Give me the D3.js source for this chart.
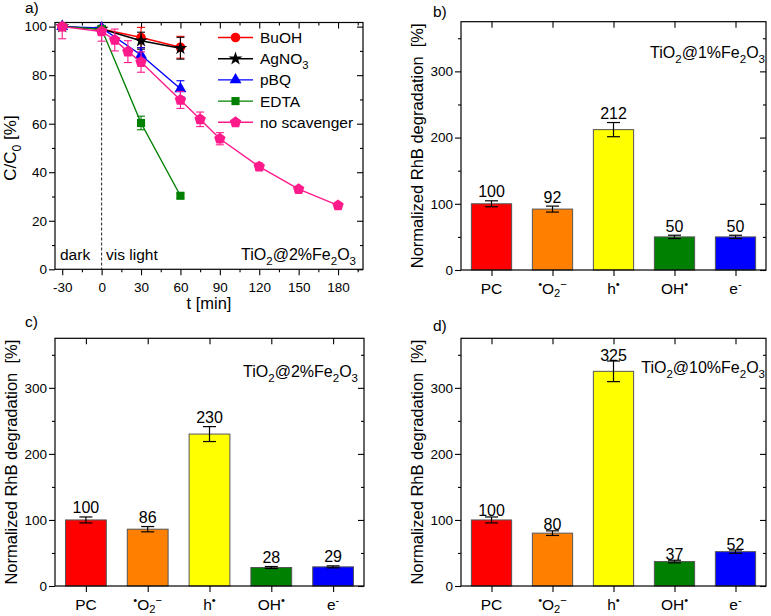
<!DOCTYPE html>
<html>
<head>
<meta charset="utf-8">
<script src="https://cdn.jsdelivr.net/npm/d3@7"></script>
<style>
  body { margin: 0; background: #fff; }
  svg { display: block; }
  text { font-family: "Liberation Sans", Arial, sans-serif; fill: #000; }
</style>
</head>
<body>
<svg id="fig" width="771" height="616"></svg>
<script>
// ---- panel a data: C/C0 [%] vs time for each scavenger ----
const scavengers = ["BuOH", "AgNO3", "pBQ", "EDTA", "no scavenger"];
const tShort = [-30, 0, 30, 60];
const tLong = [-30, 0, 10, 20, 30, 60, 75, 90, 120, 150, 180];
const buohC = [100, 99, 95.5, 91.5];
const buohErr = [1, 1, 4.2, 4.5];
const agno3C = [100, 99, 94.2, 91.1];
const agno3Err = [1, 1, 3.5, 4.5];
const pbqC = [100, 99.5, 88.3, 74.4];
const pbqErr = [1, 1, 3, 3.3];
const edtaC = [100, 99, 60.3, 30.3];
const edtaErr = [1, 1, 2.8, 1];
const noScavC = [100, 98, 94.5, 89.7, 85.4, 69.8, 61.8, 53.8, 42.3, 33, 26.3];
const noScavErr = [5, 4, 4.5, 4.5, 4.2, 3.5, 3, 2.5, 1.5, 1, 0.8];
const xTicksA = [-30, 0, 30, 60, 90, 120, 150, 180];
const yTicksA = [0, 20, 40, 60, 80, 100];

// ---- panels b-d data: normalized RhB degradation [%] ----
const species = ["PC", "O2", "h", "OH", "e"];
const speciesLabels = [
  ["PC"],
  [["\u2022", "sup"], "O", ["2", "sub"], ["\u2212", "sup"]],
  ["h", ["\u2022", "sup"]],
  ["OH", ["\u2022", "sup"]],
  ["e", ["-", "sup"]]
];
const deg1 = [100, 92, 212, 50, 50];
const err1 = [4.5, 4.5, 10.7, 2.5, 2.5];
const deg2 = [100, 86, 230, 28, 29];
const err2 = [4.5, 4, 11.3, 1.5, 1.5];
const deg10 = [100, 80, 325, 37, 52];
const err10 = [4.5, 3.5, 15.6, 2, 2.5];
const yTicksBar = [0, 100, 200, 300];

const seriesColors = ["#ff0000", "#000000", "#0000ff", "#008000", "#ff1a8c"];
const barColors = ["#ff0000", "#ff8000", "#ffff00", "#008000", "#0000ff"];

const svg = d3.select("#fig");

// text with sub/superscripts
function rich(t, parts, size, subShift) {
  let shift = 0;
  const sub = subShift === undefined ? 0.3 : subShift;
  parts.forEach(p => {
    const s = typeof p === "string" ? p : p[0];
    const kind = typeof p === "string" ? null : p[1];
    const target = kind === "sub" ? size * sub : kind === "sup" ? -size * 0.38 : 0;
    t.append("tspan")
      .attr("dy", target - shift)
      .attr("font-size", kind ? size * 0.72 : size)
      .text(s);
    shift = target;
  });
  return t;
}

function frameAxes(g, box, x, y, xt, xm, yt, ym, xFormat) {
  g.append("rect")
    .attr("x", box.left).attr("y", box.top)
    .attr("width", box.right - box.left).attr("height", box.bottom - box.top)
    .attr("fill", "none").attr("stroke", "#000").attr("stroke-width", 1.2);

  const clean = s => { s.select(".domain").remove(); s.selectAll("line").attr("stroke-width", 1.1); };
  const style = s => s.attr("font-size", 13.5);

  g.append("g").attr("transform", `translate(0,${box.bottom})`)
    .call(d3.axisBottom(x).tickValues(xt).tickSize(6).tickPadding(7).tickFormat(xFormat || (d => d)))
    .call(clean).call(style);
  g.append("g").attr("transform", `translate(0,${box.top})`)
    .call(d3.axisTop(x).tickValues(xt).tickSize(-6).tickFormat(""))
    .call(clean);
  if (xm) {
    g.append("g").attr("transform", `translate(0,${box.bottom})`)
      .call(d3.axisBottom(x).tickValues(xm).tickSize(3).tickFormat("")).call(clean);
    g.append("g").attr("transform", `translate(0,${box.top})`)
      .call(d3.axisTop(x).tickValues(xm).tickSize(-3).tickFormat("")).call(clean);
  }
  g.append("g").attr("transform", `translate(${box.left},0)`)
    .call(d3.axisLeft(y).tickValues(yt).tickSize(6).tickPadding(2))
    .call(clean).call(style);
  g.append("g").attr("transform", `translate(${box.left},0)`)
    .call(d3.axisLeft(y).tickValues(ym).tickSize(3).tickFormat("")).call(clean);
  g.append("g").attr("transform", `translate(${box.right},0)`)
    .call(d3.axisRight(y).tickValues(yt).tickSize(-6).tickFormat("")).call(clean);
  g.append("g").attr("transform", `translate(${box.right},0)`)
    .call(d3.axisRight(y).tickValues(ym).tickSize(-3).tickFormat("")).call(clean);
}

function pentagon(r) {
  const pts = d3.range(5).map(k => {
    const a = -Math.PI / 2 + k * 2 * Math.PI / 5;
    return [r * Math.cos(a), r * Math.sin(a)];
  });
  return "M" + pts.map(p => p.join(",")).join("L") + "Z";
}
const markers = [
  d3.symbol(d3.symbolCircle, 72)(),
  d3.symbol(d3.symbolStar, 60)(),
  d3.symbol(d3.symbolTriangle, 62)(),
  d3.symbol(d3.symbolSquare, 66)(),
  pentagon(6)
];

// ================= panel a =================
const boxA = {left: 55, top: 22.5, right: 363, bottom: 269.3};
const xA = d3.scaleLinear().domain([-35.5, 199]).range([boxA.left, boxA.right]);
const yA = d3.scaleLinear().domain([0, 101.7]).range([boxA.bottom, boxA.top]);
const gA = svg.append("g");

frameAxes(gA, boxA, xA, yA, xTicksA, d3.range(-15, 199, 30), yTicksA, d3.range(10, 100, 20));

gA.append("line")
  .attr("x1", xA(0)).attr("x2", xA(0))
  .attr("y1", boxA.top).attr("y2", boxA.bottom)
  .attr("stroke", "#222").attr("stroke-width", 1).attr("stroke-dasharray", "3,2");

const seriesA = [
  {t: tShort, c: buohC, e: buohErr},
  {t: tShort, c: agno3C, e: agno3Err},
  {t: tShort, c: pbqC, e: pbqErr},
  {t: tShort, c: edtaC, e: edtaErr},
  {t: tLong, c: noScavC, e: noScavErr}
];
const lineA = d3.line().x(d => xA(d[0])).y(d => yA(d[1]));

seriesA.forEach((s, i) => {
  const pts = s.t.map((t, j) => [t, s.c[j], s.e[j]]);
  const col = seriesColors[i];
  const sg = gA.append("g");
  sg.append("path").attr("d", lineA(pts))
    .attr("fill", "none").attr("stroke", col).attr("stroke-width", 1.4);
  const eb = sg.selectAll("g.eb").data(pts).enter().append("g")
    .attr("stroke", col).attr("stroke-width", 1.1);
  eb.append("line").attr("x1", d => xA(d[0])).attr("x2", d => xA(d[0]))
    .attr("y1", d => yA(d[1] - d[2])).attr("y2", d => yA(Math.min(d[1] + d[2], 101.7)));
  eb.append("line").attr("x1", d => xA(d[0]) - 4).attr("x2", d => xA(d[0]) + 4)
    .attr("y1", d => yA(d[1] - d[2])).attr("y2", d => yA(d[1] - d[2]));
  eb.filter(d => d[1] + d[2] < 101.7).append("line")
    .attr("x1", d => xA(d[0]) - 4).attr("x2", d => xA(d[0]) + 4)
    .attr("y1", d => yA(d[1] + d[2])).attr("y2", d => yA(d[1] + d[2]));
  sg.selectAll("path.m").data(pts).enter().append("path")
    .attr("class", "m")
    .attr("d", markers[i])
    .attr("transform", d => `translate(${xA(d[0])},${yA(d[1])})`)
    .attr("fill", col);
});

// legend
const leg = gA.append("g");
scavengers.forEach((name, i) => {
  const yy = 37.5 + i * 21.2;
  leg.append("line").attr("x1", 218).attr("x2", 253).attr("y1", yy).attr("y2", yy)
    .attr("stroke", seriesColors[i]).attr("stroke-width", 1.4);
  leg.append("path").attr("d", markers[i]).attr("transform", `translate(235.5,${yy})`)
    .attr("fill", seriesColors[i]);
  const parts = name === "AgNO3" ? ["AgNO", ["3", "sub"]] : [name];
  rich(leg.append("text").attr("x", 260).attr("y", yy + 5.5), parts, 15.5);
});

gA.append("text").attr("x", 60).attr("y", 260).attr("font-size", 15.5).text("dark");
gA.append("text").attr("x", 106).attr("y", 260).attr("font-size", 15.5).text("vis light");
rich(gA.append("text").attr("x", 356).attr("y", 260).attr("text-anchor", "end"),
  ["TiO", ["2", "sub"], "@2%Fe", ["2", "sub"], "O", ["3", "sub"]], 16);

gA.append("text").attr("x", (boxA.left + boxA.right) / 2).attr("y", 309)
  .attr("text-anchor", "middle").attr("font-size", 16.5).text("t [min]");
rich(gA.append("text").attr("transform", "translate(16,148) rotate(-90)")
  .attr("text-anchor", "middle"), ["C/C", ["0", "sub"], " [%]"], 17);
gA.append("text").attr("x", 25).attr("y", 13).attr("font-size", 15.5).text("a)");

// ================= panels b-d =================
function barPanel(box, vals, errs, tagParts, tagX, tagY, letter, letterX, letterY, yLabX, labelGap) {
  const g = svg.append("g");
  const x = d3.scaleBand().domain(species).range([box.left, box.right])
    .paddingInner(0.34).paddingOuter(0.17);
  const xc = d3.scalePoint().domain(species).range([box.left, box.right]).padding(0.5);
  const y = d3.scaleLinear().domain([0, 375]).range([box.bottom, box.top]);
  const data = species.map((s, i) => ({s, v: vals[i], e: errs[i], c: barColors[i]}));

  g.selectAll("rect.bar").data(data).enter().append("rect")
    .attr("class", "bar")
    .attr("x", d => x(d.s)).attr("width", x.bandwidth())
    .attr("y", d => y(d.v)).attr("height", d => y(0) - y(d.v))
    .attr("fill", d => d.c).attr("stroke", "#555").attr("stroke-width", 1);

  const eb = g.selectAll("g.eb").data(data).enter().append("g")
    .attr("stroke", "#000").attr("stroke-width", 1.2);
  eb.append("line").attr("x1", d => xc(d.s)).attr("x2", d => xc(d.s))
    .attr("y1", d => y(d.v - d.e)).attr("y2", d => y(d.v + d.e));
  [-1, 1].forEach(sg => {
    eb.append("line").attr("x1", d => xc(d.s) - 6.5).attr("x2", d => xc(d.s) + 6.5)
      .attr("y1", d => y(d.v + sg * d.e)).attr("y2", d => y(d.v + sg * d.e));
  });

  g.selectAll("text.val").data(data).enter().append("text")
    .attr("class", "val")
    .attr("x", d => xc(d.s)).attr("y", d => y(d.v + d.e) - labelGap)
    .attr("text-anchor", "middle").attr("font-size", 16)
    .text(d => d.v);

  frameAxes(g, box, xc, y, species, null, yTicksBar, [50, 150, 250, 350], () => "");

  species.forEach((s, i) => {
    rich(g.append("text").attr("x", xc(s)).attr("y", box.bottom + 23.5)
      .attr("text-anchor", "middle"), speciesLabels[i], 15.5, 0.2);
  });

  rich(g.append("text").attr("x", tagX).attr("y", tagY).attr("text-anchor", "end"), tagParts, 16);
  g.append("text").attr("x", letterX).attr("y", letterY).attr("font-size", 15.5).text(letter);
  g.append("text")
    .attr("transform", `translate(${yLabX},${(box.top + box.bottom) / 2}) rotate(-90)`)
    .attr("text-anchor", "middle").attr("font-size", 16.5)
    .style("white-space", "pre")
    .text("Normalized RhB degradation  [%]");
}

barPanel({left: 461, top: 21.7, right: 766, bottom: 270}, deg1, err1,
  ["TiO", ["2", "sub"], "@1%Fe", ["2", "sub"], "O", ["3", "sub"]], 765, 58,
  "b)", 433, 17, 423, 3.5);
barPanel({left: 55, top: 338.3, right: 364, bottom: 586}, deg2, err2,
  ["TiO", ["2", "sub"], "@2%Fe", ["2", "sub"], "O", ["3", "sub"]], 358, 377,
  "c)", 25, 327, 17, 3.5);
barPanel({left: 461, top: 338.3, right: 766, bottom: 586}, deg10, err10,
  ["TiO", ["2", "sub"], "@10%Fe", ["2", "sub"], "O", ["3", "sub"]], 765, 373,
  "d)", 433, 331, 423, 0.5);
</script>
</body>
</html>
